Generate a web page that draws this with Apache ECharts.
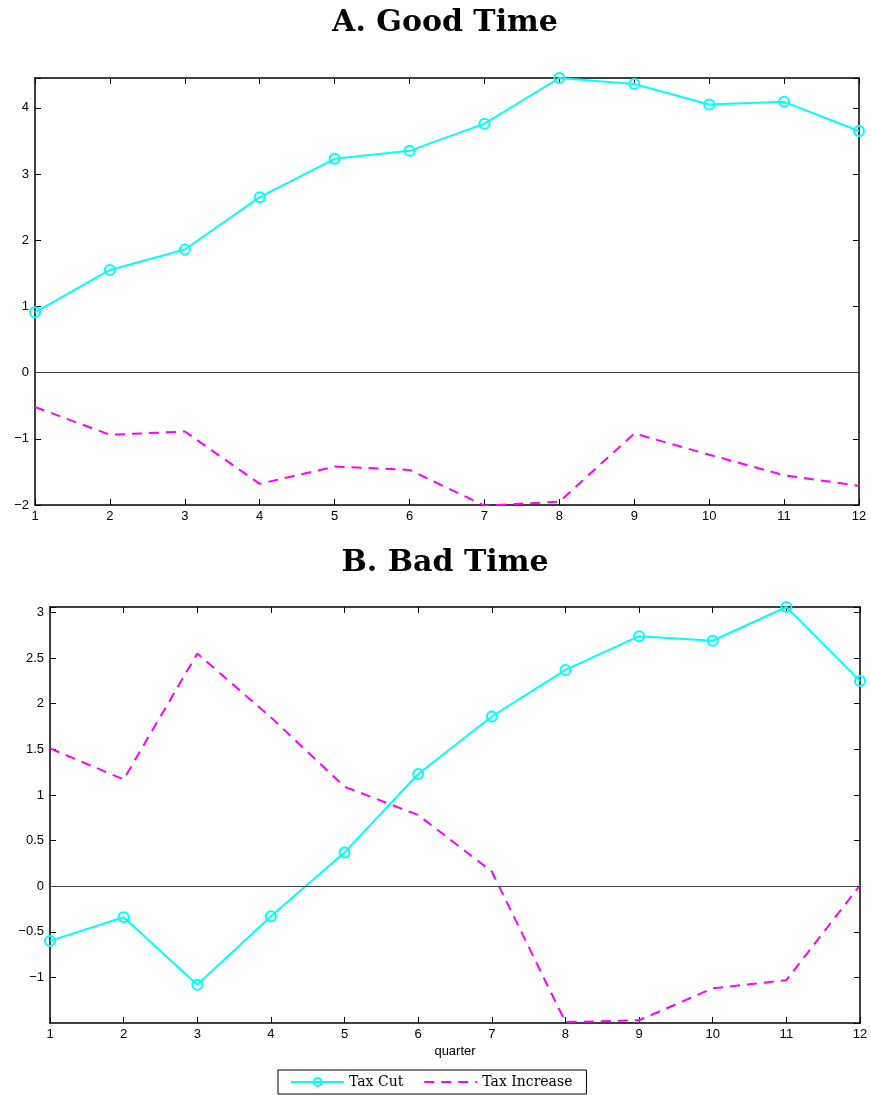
<!DOCTYPE html>
<html><head><meta charset="utf-8">
<script src="https://cdn.jsdelivr.net/npm/echarts@6/dist/echarts.min.js"></script>
<style>html,body{margin:0;padding:0;background:#fff}#c{width:871px;height:1095px}</style>
</head><body><div id="c"></div>
<script>
const quarters = ['1','2','3','4','5','6','7','8','9','10','11','12'];
const goodTaxCut = [0.91, 1.55, 1.86, 2.65, 3.23, 3.35, 3.76, 4.45, 4.36, 4.05, 4.09, 3.65];
const goodTaxIncrease = [-0.52, -0.94, -0.89, -1.68, -1.42, -1.47, -2.01, -1.95, -0.92, -1.24, -1.55, -1.71];
const badTaxCut = [-0.60, -0.34, -1.08, -0.33, 0.37, 1.23, 1.86, 2.37, 2.74, 2.69, 3.06, 2.25];
const badTaxIncrease = [1.51, 1.17, 2.55, 1.85, 1.09, 0.78, 0.16, -1.49, -1.47, -1.12, -1.03, 0.01];
const goodY = {min: -2, max: 4.45, interval: 1};
const badY = {min: -1.5, max: 3.06, interval: 0.5};
const titles = ['A. Good Time', 'B. Bad Time'];
const seriesNames = ['Tax Cut', 'Tax Increase'];

const CYAN = '#00FFFF', MAG = '#FF00FF';
const tickFont = {fontFamily: 'Liberation Sans', fontSize: 13, color: '#000'};

function fmt(interval) {
  return function (v) {
    const r = v / interval;
    if (Math.abs(r - Math.round(r)) > 1e-6) return '';
    return String(+v.toFixed(2)).replace('-', '\u2212');
  };
}
function xAxes(grid, showName) {
  return [{
    type: 'category', gridIndex: grid, data: quarters, boundaryGap: false, position: 'bottom',
    axisLine: {onZero: false, lineStyle: {color: '#000', width: 1.5}},
    axisTick: {inside: true, length: 6, lineStyle: {color: '#000'}},
    axisLabel: Object.assign({margin: 5}, tickFont),
    splitLine: {show: false},
    name: showName ? 'quarter' : '', nameLocation: 'middle', nameGap: 22,
    nameTextStyle: {fontFamily: 'Liberation Sans', fontSize: 13, color: '#000'}
  }, {
    type: 'category', gridIndex: grid, data: quarters, boundaryGap: false, position: 'top',
    axisLine: {onZero: false, lineStyle: {color: '#000', width: 1.5}},
    axisTick: {inside: true, length: 6, lineStyle: {color: '#000'}},
    axisLabel: {show: false}, splitLine: {show: false}
  }];
}
function yAxes(grid, y, showMin) {
  return [{
    type: 'value', gridIndex: grid, min: y.min, max: y.max, interval: y.interval, position: 'left',
    axisLine: {show: true, onZero: false, lineStyle: {color: '#000', width: 1.5}},
    axisTick: {show: true, inside: true, length: 6, lineStyle: {color: '#000'}},
    axisLabel: Object.assign({margin: 6, formatter: fmt(y.interval), showMinLabel: showMin, showMaxLabel: true}, tickFont),
    splitLine: {show: false}
  }, {
    type: 'value', gridIndex: grid, min: y.min, max: y.max, interval: y.interval, position: 'right',
    axisLine: {show: true, onZero: false, lineStyle: {color: '#000', width: 1.5}},
    axisTick: {show: true, inside: true, length: 6, lineStyle: {color: '#000'}},
    axisLabel: {show: false}, splitLine: {show: false}
  }];
}
function mk(grid, name, data, dashed, withZero) {
  const s = {
    type: 'line', name: name, data: data, xAxisIndex: grid * 2, yAxisIndex: grid * 2,
    lineStyle: dashed ? {color: MAG, width: 2, type: [10, 7]} : {color: CYAN, width: 2},
    itemStyle: dashed ? {color: MAG} : {color: 'rgba(255,255,255,0)', borderColor: CYAN, borderWidth: 2},
    symbol: dashed ? 'none' : 'circle', symbolSize: 10, showSymbol: !dashed,
    color: dashed ? MAG : CYAN, clip: true, silent: true
  };
  if (withZero) {
    s.markLine = {silent: true, symbol: 'none', label: {show: false},
      lineStyle: {color: '#444', width: 1, type: 'solid'}, data: [{yAxis: 0}]};
  }
  return s;
}

const chart = echarts.init(document.getElementById('c'), null, {renderer: 'canvas'});
chart.setOption({
  animation: false,
  backgroundColor: '#fff',
  title: [
    {text: titles[0], left: 440, top: 3, textAlign: 'center',
     textStyle: {fontFamily: 'DejaVu Serif', fontWeight: 'bold', fontSize: 30, color: '#000'}},
    {text: titles[1], left: 440, top: 543, textAlign: 'center',
     textStyle: {fontFamily: 'DejaVu Serif', fontWeight: 'bold', fontSize: 30, color: '#000'}}
  ],
  grid: [
    {left: 35, right: 12, top: 78, height: 427},
    {left: 50, right: 11, top: 607, height: 416}
  ],
  xAxis: xAxes(0, false).concat(xAxes(1, true)),
  yAxis: yAxes(0, goodY, true).concat(yAxes(1, badY, false)),
  legend: {
    data: [{name: seriesNames[0]}, {name: seriesNames[1], itemStyle: {opacity: 0}}],
    left: 278, top: 1070, orient: 'horizontal',
    padding: [5, 14, 5, 12], itemGap: 20, itemWidth: 53, itemHeight: 10,
    borderColor: '#000', borderWidth: 1, backgroundColor: '#fff',
    textStyle: {fontFamily: 'DejaVu Serif', fontSize: 14, color: '#000'}
  },
  series: [
    mk(0, seriesNames[0], goodTaxCut, false, true),
    mk(0, seriesNames[1], goodTaxIncrease, true, false),
    mk(1, seriesNames[0], badTaxCut, false, true),
    mk(1, seriesNames[1], badTaxIncrease, true, false)
  ]
});
</script></body></html>
